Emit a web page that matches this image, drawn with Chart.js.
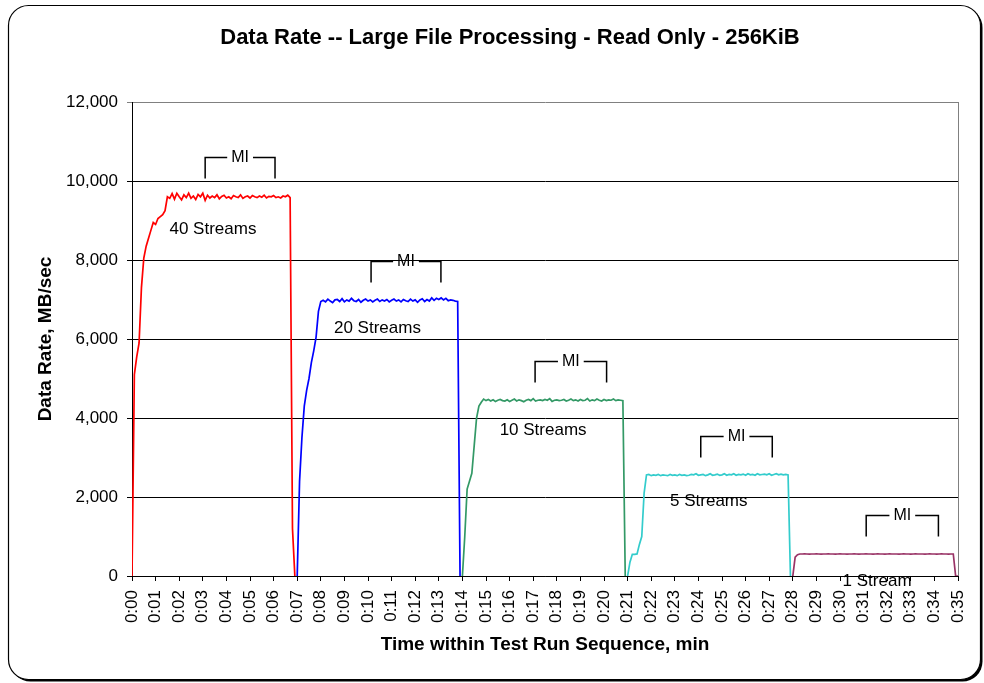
<!DOCTYPE html>
<html><head><meta charset="utf-8">
<script src="https://cdn.jsdelivr.net/npm/chart.js@4.4.1/dist/chart.umd.min.js"></script>
<style>html,body{margin:0;padding:0;background:#fff;}canvas{display:block;}</style>
</head><body>
<canvas id="c" width="984" height="683"></canvas>
<script>
const chartTitle = 'Data Rate -- Large File Processing - Read Only - 256KiB';
const xTitle = 'Time within Test Run Sequence, min';
const yTitle = 'Data Rate, MB/sec';
const tickLabels = ['0:00','0:01','0:02','0:03','0:04','0:05','0:06','0:07','0:08','0:09',
  '0:10','0:11','0:12','0:13','0:14','0:15','0:16','0:17','0:18','0:19',
  '0:20','0:21','0:22','0:23','0:24','0:25','0:26','0:27','0:28','0:29',
  '0:30','0:31','0:32','0:33','0:34','0:35'];
const seriesNames = ['40 Streams','20 Streams','10 Streams','5 Streams','1 Stream'];
const seriesStart = [0, 7.0, 14.0, 21.0, 28.0];   // minutes
const sampleStep = 0.1;                           // minutes between samples

const rate40 = [0, 5100, 5550, 5900, 7300, 8050, 8350, 8550, 8750, 8950, 8900, 9050, 9100, 9150, 9250, 9600,
  9560, 9680, 9540, 9690, 9600, 9520, 9650, 9580, 9690, 9560,
  9620, 9530, 9660, 9600, 9690, 9510, 9640, 9570, 9620, 9580,
  9650, 9550, 9610, 9640, 9570, 9600, 9550, 9630, 9600, 9580,
  9650, 9560, 9600, 9620, 9570, 9630, 9600, 9580, 9620, 9590,
  9640, 9570, 9610, 9600, 9630, 9580, 9600, 9570, 9620, 9600,
  9640, 9580, 1200, 0];
const rate20 = [0, 2400, 3500, 4300, 4700, 5000, 5400, 5700, 6050, 6700, 6950,
  6980, 6940, 7010, 6960, 6920, 6990, 7000, 6950, 7020, 6940,
  6990, 6960, 7030, 6970, 6950, 7000, 6930, 6980, 7010, 6960,
  6990, 6940, 6980, 7010, 6950, 6990, 6960, 7000, 6940, 6980,
  7010, 6960, 6990, 6940, 7000, 6970, 6950, 7010, 6960, 6990,
  6930, 6990, 7020, 6950, 7000, 6960, 7040, 6980, 7030, 7000,
  7040, 6990, 7030, 6970, 6990, 6980, 6960, 6950, 0];
const rate10 = [0, 1000, 2200, 2400, 2600, 3300, 4000, 4300, 4400, 4480,
  4440, 4470, 4430, 4460, 4420, 4450, 4470, 4440, 4430, 4460,
  4420, 4450, 4480, 4430, 4460, 4440, 4410, 4450, 4470, 4440,
  4490, 4430, 4450, 4460, 4440, 4470, 4450, 4490, 4420, 4450,
  4460, 4440, 4450, 4470, 4430, 4450, 4480, 4440, 4460, 4430,
  4470, 4440, 4450, 4490, 4430, 4460, 4440, 4480, 4450, 4430,
  4470, 4440, 4460, 4450, 4480, 4440, 4460, 4450, 4440, 0];
const rate5 = [0, 350, 550, 550, 560, 800, 1000, 2100, 2560,
  2570, 2540, 2560, 2550, 2570, 2540, 2560, 2550, 2540, 2570,
  2550, 2560, 2540, 2570, 2550, 2560, 2540, 2550, 2570, 2560,
  2590, 2550, 2560, 2570, 2540, 2560, 2590, 2550, 2560, 2580,
  2550, 2560, 2590, 2550, 2570, 2560, 2590, 2550, 2570, 2560,
  2580, 2550, 2590, 2560, 2570, 2550, 2590, 2560, 2570, 2580,
  2560, 2590, 2550, 2570, 2590, 2560, 2580, 2560, 2570, 2560, 0];
const rate1 = [0, 480, 540, 557,
  557, 558, 557, 556, 557, 557, 558, 557, 556, 557,
  557, 558, 557, 557, 556, 557, 558, 557, 557, 556,
  557, 557, 558, 557, 556, 557, 557, 558, 557, 557,
  556, 557, 558, 557, 557, 556, 557, 558, 557, 557,
  557, 556, 557, 558, 557, 557, 556, 557, 558, 557,
  557, 557, 556, 557, 558, 557, 557, 556, 557, 558,
  557, 557, 556, 557, 557, 0, 0];

const seriesColors = ['#FF0000', '#0000FF', '#339966', '#33CCCC', '#993366'];

// "MI" measurement-interval brackets (minutes, MB/sec)
const miStart = [3.10, 10.13, 17.08, 24.10, 31.11];
const miEnd   = [6.06, 13.09, 20.11, 27.13, 34.17];
const miTop   = [10600, 7980, 5440, 3550, 1545];
// series label anchors (minutes, MB/sec)
const labelTime = [3.43, 10.40, 17.42, 24.44, 31.57];
const labelRate = [8785, 6271, 3696, 1899, -127];

const FONT = '"Liberation Sans", Arial, Helvetica, sans-serif';
const allRates = [rate40, rate20, rate10, rate5, rate1];

function toPoints(start, values) {
  return values.map((v, i) => ({ x: Math.round((start + i * sampleStep) * 100) / 100, y: v }));
}

const datasets = allRates.map((vals, k) => ({
  label: seriesNames[k],
  data: toPoints(seriesStart[k], vals),
  borderColor: seriesColors[k],
  backgroundColor: seriesColors[k],
  borderWidth: 1.7,
  pointRadius: 0,
  tension: 0,
  fill: false
}));

function roundRect(ctx, x, y, w, h, r) {
  ctx.beginPath();
  ctx.moveTo(x + r, y);
  ctx.lineTo(x + w - r, y);
  ctx.arcTo(x + w, y, x + w, y + r, r);
  ctx.lineTo(x + w, y + h - r);
  ctx.arcTo(x + w, y + h, x + w - r, y + h, r);
  ctx.lineTo(x + r, y + h);
  ctx.arcTo(x, y + h, x, y + h - r, r);
  ctx.lineTo(x, y + r);
  ctx.arcTo(x, y, x + r, y, r);
  ctx.closePath();
}

const decor = {
  id: 'decor',
  beforeDraw(chart) {
    const ctx = chart.ctx;
    ctx.save();
    roundRect(ctx, 10.5, 7.5, 972, 674, 20);
    ctx.fillStyle = '#000';
    ctx.fill();
    roundRect(ctx, 8.5, 5.5, 972, 674, 20);
    ctx.fillStyle = '#fff';
    ctx.fill();
    ctx.strokeStyle = '#000';
    ctx.lineWidth = 1.2;
    ctx.stroke();
    ctx.fillStyle = '#000';
    ctx.font = 'bold 22px ' + FONT;
    ctx.textAlign = 'center';
    ctx.textBaseline = 'middle';
    ctx.fillText(chartTitle, 510, 38);
    ctx.restore();
  },
  afterDatasetsDraw(chart) {
    const ctx = chart.ctx;
    const xs = chart.scales.x, ys = chart.scales.y;
    const ca = chart.chartArea;
    ctx.save();
    // plot area right border
    ctx.strokeStyle = '#808080';
    ctx.lineWidth = 1;
    ctx.beginPath();
    ctx.moveTo(Math.round(ca.right) + 0.5, ca.top);
    ctx.lineTo(Math.round(ca.right) + 0.5, ca.bottom);
    ctx.stroke();
    // MI brackets
    ctx.strokeStyle = '#000';
    ctx.fillStyle = '#000';
    ctx.lineWidth = 1.5;
    ctx.font = '16px ' + FONT;
    ctx.textAlign = 'center';
    ctx.textBaseline = 'middle';
    for (let i = 0; i < miStart.length; i++) {
      const x0 = xs.getPixelForValue(miStart[i]);
      const x1 = xs.getPixelForValue(miEnd[i]);
      const yt = Math.round(ys.getPixelForValue(miTop[i])) + 0.5;
      const xc = (x0 + x1) / 2;
      const gap = ctx.measureText('MI').width / 2 + 4;
      ctx.beginPath();
      ctx.moveTo(x0, yt + 21);
      ctx.lineTo(x0, yt);
      ctx.lineTo(xc - gap, yt);
      ctx.moveTo(xc + gap, yt);
      ctx.lineTo(x1, yt);
      ctx.lineTo(x1, yt + 21);
      ctx.stroke();
      ctx.fillText('MI', xc, yt);
    }
    // series labels
    ctx.font = '17px ' + FONT;
    for (let i = 0; i < seriesNames.length; i++) {
      ctx.fillText(seriesNames[i], xs.getPixelForValue(labelTime[i]), ys.getPixelForValue(labelRate[i]));
    }
    ctx.restore();
  }
};

new Chart(document.getElementById('c'), {
  type: 'line',
  data: { datasets },
  options: {
    responsive: false,
    animation: false,
    devicePixelRatio: 1,
    layout: { padding: { top: 102, right: 26, bottom: 0, left: 0 } },
    plugins: { legend: { display: false }, tooltip: { enabled: false }, title: { display: false } },
    scales: {
      x: {
        type: 'linear', min: 0, max: 35,
        ticks: {
          stepSize: 1, autoSkip: false, maxRotation: 90, minRotation: 90, padding: 9,
          color: '#000', font: { family: FONT, size: 17 },
          callback: (v) => tickLabels[Math.round(v)]
        },
        grid: { drawOnChartArea: false, drawTicks: true, tickLength: 5, color: '#000' },
        border: { color: '#000', width: 1 },
        title: { display: true, text: xTitle, color: '#000', font: { family: FONT, size: 19, weight: 'bold' }, padding: { top: 0, bottom: 27 } },
        afterFit: (s) => { s.height = 107; s.paddingLeft = 0; s.paddingRight = 0; }
      },
      y: {
        min: 0, max: 12000,
        ticks: {
          stepSize: 2000, padding: 9, color: '#000', font: { family: FONT, size: 17 },
          callback: (v) => Number(v).toLocaleString('en-US')
        },
        grid: { color: (c) => (c.tick && c.tick.value === 12000) ? '#808080' : '#000', tickLength: 5, lineWidth: 1 },
        border: { color: '#000', width: 1 },
        title: { display: true, text: yTitle, color: '#000', font: { family: FONT, size: 19, weight: 'bold' }, padding: { top: 34, bottom: 0 } },
        afterFit: (s) => { s.width = 132; s.paddingTop = 0; s.paddingBottom = 0; }
      }
    }
  },
  plugins: [decor]
});
</script>
</body></html>
